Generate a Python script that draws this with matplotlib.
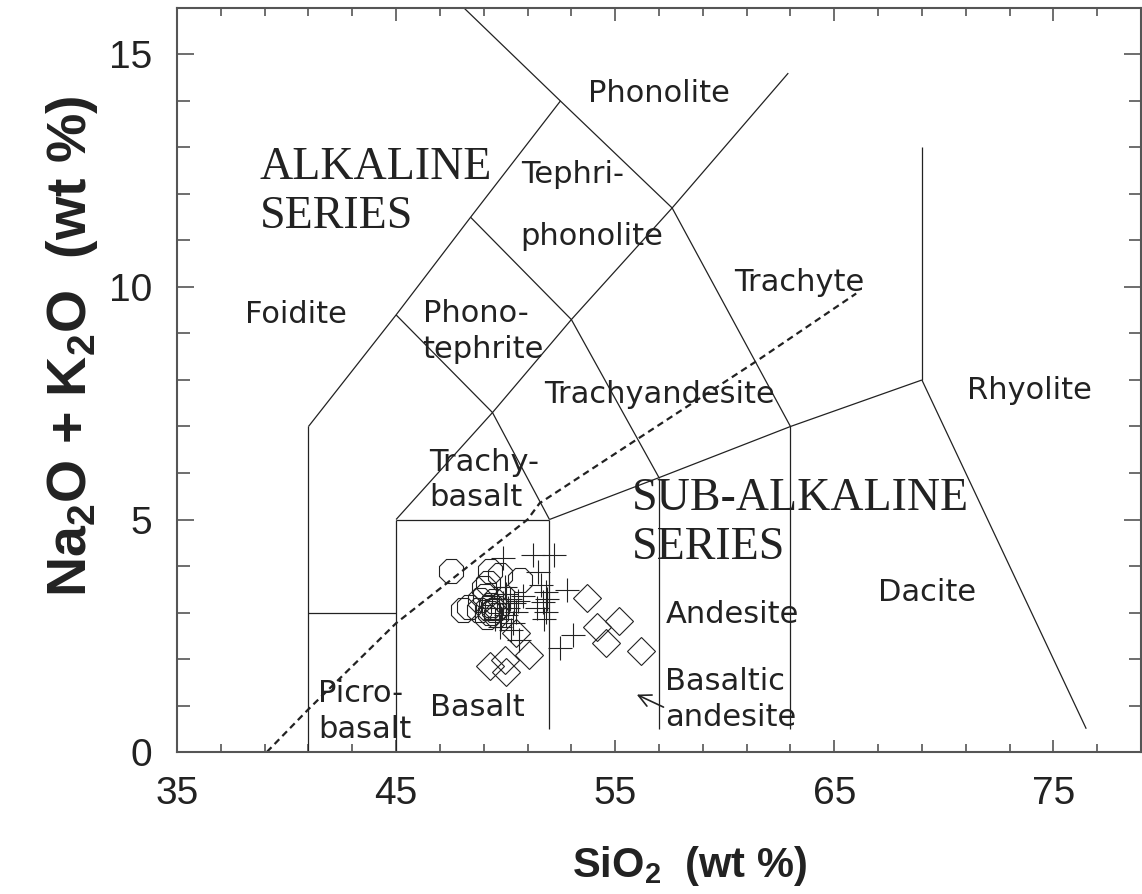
import numpy as np
import matplotlib
matplotlib.use("Agg")
import matplotlib.pyplot as plt
from matplotlib.ticker import FixedLocator

plt.rcParams['mathtext.fontset'] = 'custom'
plt.rcParams['mathtext.rm'] = 'Liberation Sans:bold'
plt.rcParams['mathtext.bf'] = 'Liberation Sans:bold'

# --- TAS field boundaries (SiO2, Na2O+K2O) ---
boundaries = [
    ([41, 41], [0, 7]),
    ([41, 45], [3, 3]),
    ([45, 45], [0, 5]),
    ([45, 52], [5, 5]),
    ([52, 52], [0.5, 5]),
    ([45, 49.4, 52], [5, 7.3, 5]),
    ([52, 57, 63, 69], [5, 5.9, 7, 8]),
    ([57, 57], [0.5, 5.9]),
    ([63, 63], [0.5, 7]),
    ([69, 76.5], [8, 0.5]),
    ([69, 69], [8, 13]),
    ([41, 45, 48.4, 52.5, 57.6, 63], [7, 9.4, 11.5, 14, 11.7, 7]),
    ([45, 49.4], [9.4, 7.3]),
    ([48.4, 53, 57], [11.5, 9.3, 5.9]),
    ([49.4, 53, 57.6, 62.9], [7.3, 9.3, 11.7, 14.6]),
    ([52.5, 48.1], [14, 16]),
]

# alkaline / sub-alkaline divide
divide_x = [39.1, 41.0, 45.0, 51.0, 51.55, 55.95, 61.4, 66.0]
divide_y = [0.0, 0.92, 2.77, 5.0, 5.35, 6.71, 8.39, 9.86]

# samples
oct_x = [47.52, 49.30, 49.75, 50.65, 49.20, 49.00, 48.05, 48.35, 48.85, 48.80,
         49.19, 49.34, 49.49, 49.27, 49.05, 49.45, 49.60, 49.15, 49.55]
oct_y = [3.90, 3.89, 3.80, 3.70, 3.64, 3.52, 3.05, 3.12, 3.27, 3.05,
         3.09, 3.16, 3.05, 2.98, 3.35, 3.25, 3.10, 2.90, 2.95]

plus_x = [49.87, 51.24, 52.20, 51.47, 52.80, 51.85, 51.70, 51.85, 51.77, 53.07,
          52.46, 50.48, 50.33, 49.72, 50.63, 50.25, 49.60, 49.90, 50.10, 50.00,
          49.80, 50.20, 49.50, 50.40, 49.70, 50.00, 51.60, 51.90, 50.80, 51.45,
          50.55, 49.95]
plus_y = [4.17, 4.24, 4.24, 3.88, 3.48, 3.45, 3.23, 3.02, 2.87, 2.52,
          2.23, 3.02, 2.77, 2.69, 2.41, 2.62, 3.30, 3.20, 3.10, 2.95,
          2.85, 3.30, 2.85, 3.20, 3.10, 3.40, 3.60, 3.30, 3.35, 3.10,
          3.25, 3.55]

dia_x = [49.30, 49.95, 50.03, 51.05, 50.48, 53.72, 54.17, 54.60, 55.19, 56.18]
dia_y = [1.84, 1.98, 1.71, 2.08, 2.55, 3.32, 2.69, 2.34, 2.81, 2.17]

# field names: (text, x, y, ha)
sans_labels = [
    ("Phonolite", 57.0, 14.17, "center"),
    ("Tephri-", 50.72, 12.41, "left"),
    ("phonolite", 50.68, 11.08, "left"),
    ("Foidite", 40.42, 9.40, "center"),
    ("Phono-\ntephrite", 46.21, 9.05, "left"),
    ("Trachyte", 63.4, 10.09, "center"),
    ("Trachyandesite", 57.0, 7.68, "center"),
    ("Rhyolite", 73.9, 7.78, "center"),
    ("Trachy-\nbasalt", 46.53, 5.85, "left"),
    ("Andesite", 60.34, 2.95, "center"),
    ("Dacite", 69.23, 3.42, "center"),
    ("Basaltic\nandesite", 57.29, 1.12, "left"),
    ("Basalt", 48.72, 0.95, "center"),
    ("Picro-\nbasalt", 41.43, 0.88, "left"),
]
serif_labels = [
    ("ALKALINE\nSERIES", 38.78, 12.04),
    ("SUB-ALKALINE\nSERIES", 55.74, 4.92),
]

fig = plt.figure(figsize=(11.42, 8.94), dpi=100)
ax = fig.add_axes([177/1142, 142/894, 964/1142, 744/894])

for xs, ys in boundaries:
    ax.plot(xs, ys, color='#222222', lw=0.9, solid_capstyle='butt')
ax.plot(divide_x, divide_y, color='#222222', lw=1.6, linestyle=(0, (3, 2)))

ax.plot(oct_x, oct_y, linestyle='none', marker='8', ms=18, mfc='none',
        mec='#222222', mew=0.8)
ax.plot(plus_x, plus_y, linestyle='none', marker='+', ms=17,
        mec='#222222', mew=0.8)
ax.plot(dia_x, dia_y, linestyle='none', marker='D', ms=14, mfc='none',
        mec='#222222', mew=0.8)

for txt, x, y, ha in sans_labels:
    ax.text(x, y, txt, ha=ha, va='center', fontsize=22, family='DejaVu Sans',
            color='#222222', linespacing=1.3, multialignment='left')
for txt, x, y in serif_labels:
    ax.text(x, y, txt, ha='left', va='center', fontsize=33,
            family='Liberation Serif', color='#222222', linespacing=1.2)

ax.annotate("", xy=(55.87, 1.26), xytext=(57.32, 0.94),
            arrowprops=dict(arrowstyle='->', color='#222222', lw=1.2,
                            mutation_scale=22))

ax.set_xlim(35, 79)
ax.set_ylim(0, 16)
ax.xaxis.set_major_locator(FixedLocator([35, 45, 55, 65, 75]))
ax.xaxis.set_minor_locator(FixedLocator(np.arange(35, 80, 2)))
ax.yaxis.set_major_locator(FixedLocator([0, 5, 10, 15]))
ax.yaxis.set_minor_locator(FixedLocator(np.arange(0, 17, 1)))

ax.tick_params(axis='both', which='both', direction='in', top=True, right=True,
               colors='#555555', labelcolor='#222222', width=1.2)
ax.tick_params(axis='x', which='major', length=9, pad=17, labelsize=28)
ax.tick_params(axis='x', which='minor', length=6)
ax.tick_params(axis='y', which='major', length=12.5, pad=18, labelsize=28)
ax.tick_params(axis='y', which='minor', length=9)
for lab in ax.get_xticklabels() + ax.get_yticklabels():
    lab.set_family('Liberation Sans')

for sp in ax.spines.values():
    sp.set_color('#555555')
    sp.set_linewidth(1.5)

fig.text(690/1142, 1 - 877/894, r"SiO$_{2}$  (wt %)", ha='center', va='baseline',
         fontsize=30, fontweight='bold', family='Liberation Sans', color='#222222')
fig.text(72/1142, 1 - 346/894, r"Na$_{2}$O + K$_{2}$O  (wt %)", ha='center',
         va='center', rotation=90, fontsize=40, fontweight='bold',
         family='Liberation Sans', color='#222222')

fig.savefig("out.png", dpi=100, facecolor='white')
